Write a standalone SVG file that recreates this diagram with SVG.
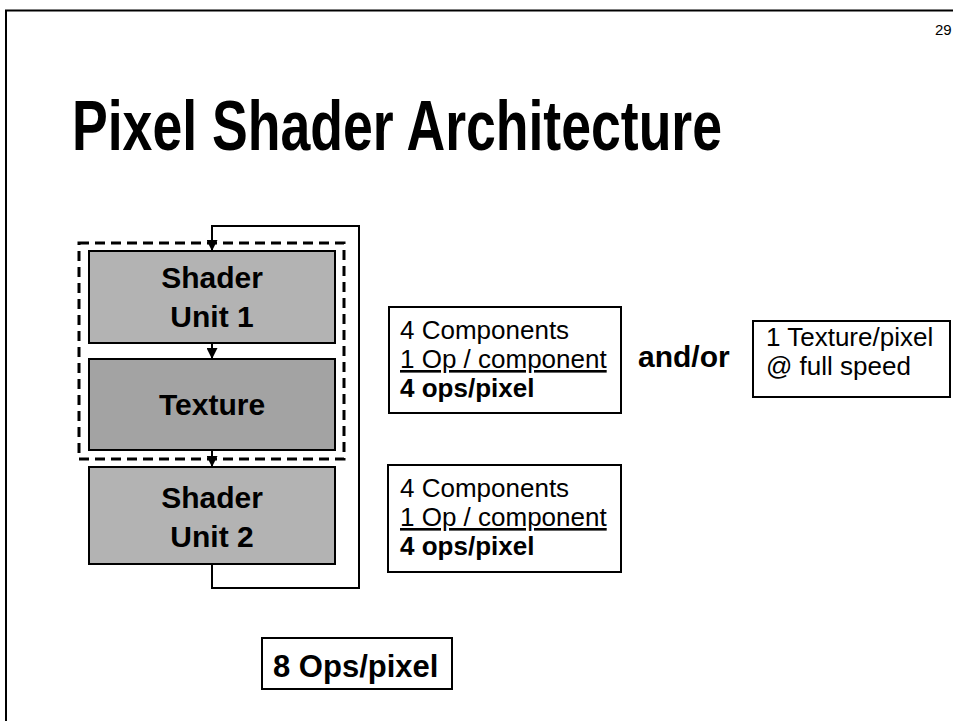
<svg xmlns="http://www.w3.org/2000/svg" width="953" height="721" viewBox="0 0 953 721">
  <style>
    .frame { fill: none; stroke: #000; stroke-width: 2; }
    .unit { stroke: #000; stroke-width: 2; }
    .light { fill: #b3b3b3; }
    .dark { fill: #a3a3a3; }
    .note { fill: #fff; stroke: #000; stroke-width: 2; }
    .wire { fill: none; stroke: #000; stroke-width: 2; }
    .group { fill: none; stroke: #000; stroke-width: 3; stroke-dasharray: 10 6; }
    .bold { font-family: "Liberation Sans", Arial, sans-serif; font-weight: bold; fill: #000; }
    .body { font-family: "Liberation Sans", Arial, sans-serif; fill: #000; font-size: 26px; }
  </style>
  <defs>
    <marker id="arrow" viewBox="0 0 10 10" refX="10" refY="5" markerWidth="11" markerHeight="11" markerUnits="userSpaceOnUse" orient="auto">
      <path d="M0,0 L10,5 L0,10 Z" fill="#000"/>
    </marker>
  </defs>

  <rect width="953" height="721" fill="#fff"/>

  <!-- page frame -->
  <path class="frame" d="M6,721 L6,10.5 L953,10.5"/>
  <text class="body" x="935" y="35" style="font-size:15px">29</text>

  <!-- title -->
  <text class="bold" x="72" y="150" font-size="71" textLength="650" lengthAdjust="spacingAndGlyphs">Pixel Shader Architecture</text>

  <!-- pipeline nodes -->
  <g id="shader-unit-1">
    <rect class="unit light" x="89" y="251" width="246" height="92"/>
    <text class="bold" x="212" y="288" font-size="30" text-anchor="middle">Shader</text>
    <text class="bold" x="212" y="327" font-size="30" text-anchor="middle">Unit 1</text>
  </g>
  <g id="texture">
    <rect class="unit dark" x="89" y="359" width="246" height="91"/>
    <text class="bold" x="212" y="415" font-size="30" text-anchor="middle">Texture</text>
  </g>
  <g id="shader-unit-2">
    <rect class="unit light" x="89" y="467" width="246" height="97"/>
    <text class="bold" x="212" y="508" font-size="30" text-anchor="middle">Shader</text>
    <text class="bold" x="212" y="547" font-size="30" text-anchor="middle">Unit 2</text>
  </g>
  <g id="dual-issue-group">
    <rect class="group" x="79" y="243" width="265" height="216"/>
  </g>

  <!-- connectors -->
  <g id="connectors">
    <line class="wire" x1="212" y1="343" x2="212" y2="359" marker-end="url(#arrow)"/>
    <line class="wire" x1="212" y1="450" x2="212" y2="467" marker-end="url(#arrow)"/>
    <path class="wire" d="M212,564 L212,588 L359,588 L359,226 L212,226 L212,251" marker-end="url(#arrow)"/>
  </g>

  <!-- annotations -->
  <g id="ops-unit-1">
    <rect class="note" x="389" y="307" width="232" height="106"/>
    <text class="body" x="400" y="339">4 Components</text>
    <text class="body" x="400" y="368" text-decoration="underline">1 Op / component</text>
    <text class="bold" x="400" y="397" font-size="26">4 ops/pixel</text>
  </g>
  <g id="and-or">
    <text class="bold" x="638" y="367" font-size="30">and/or</text>
  </g>
  <g id="texture-rate">
    <rect class="note" x="753" y="321" width="197" height="76"/>
    <text class="body" x="766" y="346">1 Texture/pixel</text>
    <text class="body" x="766" y="375">@ full speed</text>
  </g>
  <g id="ops-unit-2">
    <rect class="note" x="388" y="465" width="233" height="107"/>
    <text class="body" x="400" y="497">4 Components</text>
    <text class="body" x="400" y="526" text-decoration="underline">1 Op / component</text>
    <text class="bold" x="400" y="555" font-size="26">4 ops/pixel</text>
  </g>
  <g id="total-ops">
    <rect class="note" x="262" y="638" width="190" height="51"/>
    <text class="bold" x="273" y="677" font-size="31">8 Ops/pixel</text>
  </g>
</svg>
